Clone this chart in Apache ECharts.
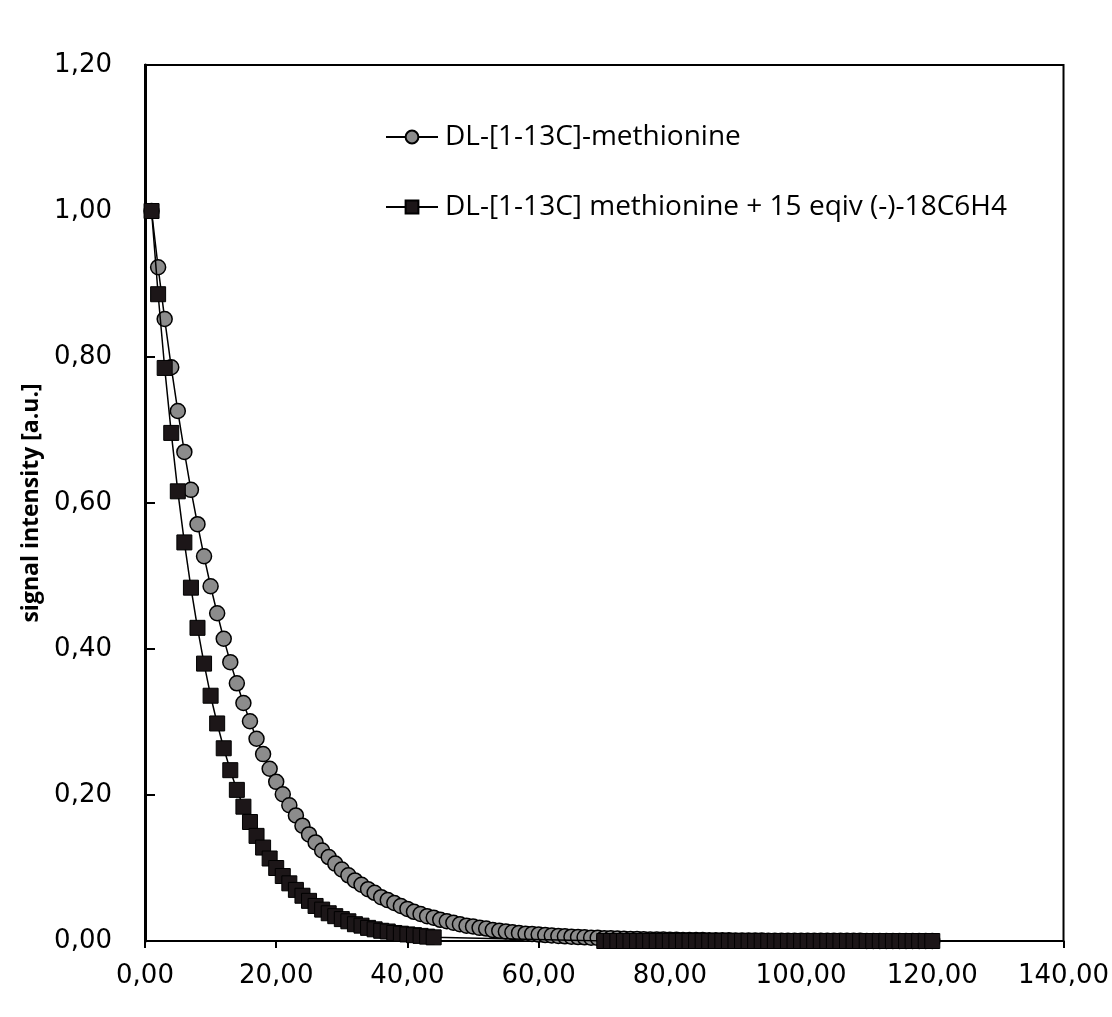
<!DOCTYPE html>
<html>
<head>
<meta charset="utf-8">
<script src="https://cdn.jsdelivr.net/npm/echarts@6/dist/echarts.min.js"></script>
<style>
html,body{margin:0;padding:0;background:#fff;}
#c{width:1112px;height:1017px;}
</style>
</head>
<body>
<div id="c"></div>
<script>
// Series names
var seriesNames = ['DL-[1-13C]-methionine', 'DL-[1-13C] methionine + 15 eqiv (-)-18C6H4'];

// Gray circles: values at x = 1, 2, 3, ... (one per unit of x)
var grayStartX = 1;
var grayValues = [
  1.000, 0.923, 0.852, 0.786, 0.726, 0.670, 0.618, 0.571, 0.527, 0.486,
  0.449, 0.414, 0.382, 0.353, 0.326, 0.301, 0.277, 0.256, 0.236, 0.218,
  0.201, 0.186, 0.172, 0.158, 0.146, 0.135, 0.124, 0.115, 0.106, 0.098,
  0.090, 0.083, 0.077, 0.071, 0.066, 0.060, 0.056, 0.052, 0.048, 0.044,
  0.040, 0.037, 0.034, 0.032, 0.029, 0.027, 0.025, 0.023, 0.021, 0.020,
  0.018, 0.017, 0.015, 0.014, 0.013, 0.012, 0.011, 0.010, 0.0095, 0.0088,
  0.0081, 0.0075, 0.0069, 0.0064, 0.0059, 0.0054, 0.0050, 0.0046, 0.0043, 0.0039,
  0.0036, 0.0033, 0.0031, 0.0028, 0.0026, 0.0024, 0.0022, 0.0021, 0.0019, 0.0017,
  0.0016, 0.0015, 0.0014, 0.0013, 0.0012, 0.0011, 0.0010, 0.0009, 0.0009, 0.0008,
  0.0007, 0.0007, 0.0006, 0.0006, 0.0005, 0.0005, 0.0004, 0.0004, 0.0004, 0.0003,
  0.0003, 0.0003, 0.0003, 0.0002, 0.0002, 0.0002, 0.0002, 0.0002, 0.0002, 0.0001,
  0.0001, 0.0001, 0.0001, 0.0001, 0.0001, 0.0001, 0.0001, 0.0001, 0.0001, 0.0001
];

// Black squares, first part: x = 1 ... 44
var blackStartX = 1;
var blackValues = [
  1.000, 0.886, 0.785, 0.696, 0.616, 0.546, 0.484, 0.429, 0.380, 0.336,
  0.298, 0.264, 0.234, 0.207, 0.184, 0.163, 0.144, 0.128, 0.113, 0.100,
  0.089, 0.079, 0.070, 0.062, 0.055, 0.048, 0.043, 0.038, 0.034, 0.030,
  0.027, 0.023, 0.021, 0.018, 0.016, 0.014, 0.013, 0.011, 0.010, 0.009,
  0.008, 0.007, 0.006, 0.005
];
// Black squares, second part: x = 70 ... 120
var blackTailStartX = 70;
var blackTailValues = [
  0,0,0,0,0,0,0,0,0,0,
  0,0,0,0,0,0,0,0,0,0,
  0,0,0,0,0,0,0,0,0,0,
  0,0,0,0,0,0,0,0,0,0,
  0,0,0,0,0,0,0,0,0,0,
  0
];

// Axis ticks
var xMin = 0, xMax = 140, xStep = 20;
var yMin = 0, yMax = 1.2, yStep = 0.2;
var yAxisTitle = 'signal intensity [a.u.]';

function pairs(start, vals) {
  var out = [];
  for (var i = 0; i < vals.length; i++) out.push([start + i, vals[i]]);
  return out;
}
var grayData = pairs(grayStartX, grayValues);
var blackData = pairs(blackStartX, blackValues).concat(pairs(blackTailStartX, blackTailValues));

function fmt(v) { return v.toFixed(2).replace('.', ','); }

var chart = echarts.init(document.getElementById('c'), null, {renderer: 'canvas'});
chart.setOption({
  backgroundColor: '#ffffff',
  animation: false,
  grid: {
    left: 145, right: 47, top: 65, bottom: 76,
    show: true, borderColor: '#000', borderWidth: 2, backgroundColor: 'transparent'
  },
  legend: {
    orient: 'vertical',
    left: 380, top: 118,
    itemWidth: 52, itemHeight: 16, itemGap: 42,
    textStyle: {fontFamily: 'Open Sans', fontSize: 28, color: '#000', padding: [0, 0, 0, 2]},
    data: seriesNames
  },
  xAxis: {
    type: 'value', min: xMin, max: xMax, interval: xStep,
    axisLine: {show: true, onZero: false, lineStyle: {color: '#000', width: 2}},
    axisTick: {show: true, inside: false, length: 7, lineStyle: {color: '#000', width: 2}},
    splitLine: {show: false},
    axisLabel: {formatter: fmt, fontFamily: 'DejaVu Sans', fontSize: 26, color: '#000', margin: 22}
  },
  yAxis: {
    type: 'value', min: yMin, max: yMax, interval: yStep,
    name: yAxisTitle, nameLocation: 'middle', nameGap: 92, nameRotate: 90,
    nameTextStyle: {fontFamily: 'Open Sans', fontWeight: 'bold', fontSize: 23, color: '#000'},
    axisLine: {show: true, lineStyle: {color: '#000', width: 3}},
    axisTick: {show: true, inside: true, length: 10, lineStyle: {color: '#000', width: 2}},
    splitLine: {show: false},
    axisLabel: {formatter: fmt, fontFamily: 'DejaVu Sans', fontSize: 26, color: '#000', margin: 33}
  },
  series: [
    {
      name: seriesNames[0], type: 'line', data: grayData,
      symbol: 'circle', symbolSize: 15, showSymbol: true,
      lineStyle: {color: '#000', width: 1.5},
      itemStyle: {color: '#8c8c8c', borderColor: '#000', borderWidth: 1.5},
      z: 2
    },
    {
      name: seriesNames[1], type: 'line', data: blackData,
      symbol: 'rect', symbolSize: 15, showSymbol: true,
      lineStyle: {color: '#000', width: 1.5},
      itemStyle: {color: '#1c1618', borderColor: '#000', borderWidth: 1},
      z: 3
    }
  ]
});
</script>
</body>
</html>
